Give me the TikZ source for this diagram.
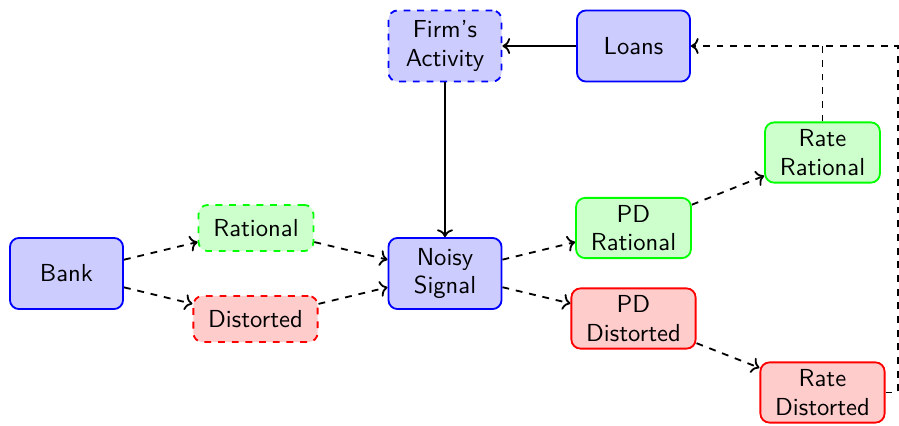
\documentclass[tikz,border=0pt]{standalone}
\usetikzlibrary{arrows.meta}
\begin{document}
\begin{tikzpicture}[x=0.4386pt,y=-0.4386pt,
  box/.style={rounded corners=4pt, thick, align=center, font=\sffamily\fontsize{10.8pt}{12.4pt}\selectfont,
    minimum width=49.6pt, minimum height=20.2pt, inner xsep=6.5pt, inner ysep=3.2pt},
  bigbox/.style={box, minimum height=31.2pt},
  bluebox/.style={draw=blue, fill=blue!20},
  greenbox/.style={draw=green, fill=green!20},
  redbox/.style={draw=red, fill=red!20},
  dline/.style={thick, dashed, ->},
  dplain/.style={thick, dashed},
  sline/.style={thick, ->}]
\useasboundingbox (0,0) rectangle (899,425);
\node[bigbox,bluebox] (bank) at (66.5,273.5) {Bank};
\node[box,greenbox,dashed] (rat) at (256,228) {Rational};
\node[box,redbox,dashed] (dist) at (255.5,319) {Distorted};
\node[bigbox,bluebox] (noisy) at (445,273.5) {Noisy\\Signal};
\node[bigbox,bluebox,dashed] (firm) at (445,46) {Firm's\\Activity};
\node[bigbox,bluebox] (loans) at (633.5,46) {Loans};
\node[box,greenbox] (pdrat) at (633.5,228) {PD\\Rational};
\node[box,redbox] (pddist) at (633.5,318.5) {PD\\Distorted};
\node[box,greenbox] (raterat) at (822.5,152.5) {Rate\\Rational};
\node[box,redbox] (ratedist) at (822.5,392.5) {Rate\\Distorted};
\draw[dline] (bank) -- (rat);
\draw[dline] (bank) -- (dist);
\draw[dline] (rat) -- (noisy);
\draw[dline] (dist) -- (noisy);
\draw[dline] (noisy) -- (pdrat);
\draw[dline] (noisy) -- (pddist);
\draw[dline] (pdrat) -- (raterat);
\draw[dline] (pddist) -- (ratedist);
\draw[sline] (firm) -- (noisy);
\draw[sline] (loans) -- (firm);
\coordinate (join) at (raterat.north |- loans.east);
\draw[dplain] (raterat.north) -- (join);
\coordinate (corner) at (898,392.5);
\draw[dline] (ratedist.east) -- (corner) |- (loans.east);
\end{tikzpicture}
\end{document}
